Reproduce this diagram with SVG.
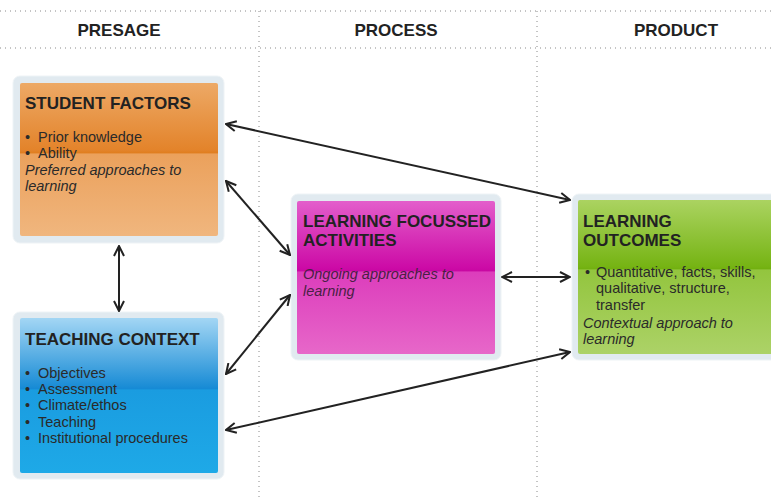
<svg xmlns="http://www.w3.org/2000/svg" width="771" height="498" viewBox="0 0 771 498">
<style>
.hdr{font-family:"Liberation Sans",Arial,sans-serif;font-weight:bold;font-size:17px;fill:#222;text-anchor:middle}
.ttl{font-family:"Liberation Sans",Arial,sans-serif;font-weight:bold;font-size:17px;fill:#222}
.txt{font-family:"Liberation Sans",Arial,sans-serif;font-size:14.5px;fill:#2a2a2a}
.it{font-family:"Liberation Sans",Arial,sans-serif;font-size:14.5px;font-style:italic;fill:#2a2a2a}
.dot{stroke:#8a8a8a;stroke-width:1;stroke-dasharray:1 4;fill:none}
.frame{fill:#e1eaf0;stroke:#eef3f6;stroke-width:1}
.conn{stroke:#222;stroke-width:2;fill:none;marker-start:url(#ah);marker-end:url(#ah)}
</style>
<defs>
<marker id="ah" viewBox="0 0 12 12" refX="11" refY="6" markerWidth="12" markerHeight="12" markerUnits="userSpaceOnUse" orient="auto-start-reverse">
<path d="M1,1 L11,6 L1,11" fill="none" stroke="#222" stroke-width="2"/>
</marker>
<linearGradient id="gO" x1="0" y1="0" x2="0" y2="1">
<stop offset="0" stop-color="#eda966"/>
<stop offset="0.44" stop-color="#e3832a"/>
<stop offset="0.455" stop-color="#e07e20"/>
<stop offset="0.465" stop-color="#eba15c"/>
<stop offset="1" stop-color="#f0b67e"/>
</linearGradient>
<linearGradient id="gB" x1="0" y1="0" x2="0" y2="1">
<stop offset="0" stop-color="#a3d6f4"/>
<stop offset="0.44" stop-color="#1b8dd6"/>
<stop offset="0.455" stop-color="#168ad5"/>
<stop offset="0.465" stop-color="#1a9ce0"/>
<stop offset="1" stop-color="#1ea9e7"/>
</linearGradient>
<linearGradient id="gM" x1="0" y1="0" x2="0" y2="1">
<stop offset="0" stop-color="#e35ecb"/>
<stop offset="0.44" stop-color="#cc0aa6"/>
<stop offset="0.455" stop-color="#c808a2"/>
<stop offset="0.465" stop-color="#dc3dbc"/>
<stop offset="1" stop-color="#e767c9"/>
</linearGradient>
<linearGradient id="gG" x1="0" y1="0" x2="0" y2="1">
<stop offset="0" stop-color="#abd361"/>
<stop offset="0.43" stop-color="#76b414"/>
<stop offset="0.445" stop-color="#72b010"/>
<stop offset="0.455" stop-color="#93c53e"/>
<stop offset="1" stop-color="#acd267"/>
</linearGradient>
</defs>
<rect width="771" height="498" fill="#ffffff"/>
<g id="grid">
<line class="dot" x1="0" y1="11" x2="771" y2="11"/>
<line class="dot" x1="0" y1="48" x2="771" y2="48"/>
<line class="dot" x1="259" y1="11" x2="259" y2="498"/>
<line class="dot" x1="537" y1="11" x2="537" y2="498"/>
</g>
<g id="headers">
<text class="hdr" x="119" y="36">PRESAGE</text>
<text class="hdr" x="396" y="36">PROCESS</text>
<text class="hdr" x="676" y="36">PRODUCT</text>
</g>
<g id="student-factors">
<rect class="frame" x="13" y="76" width="211" height="167" rx="7"/>
<rect x="20" y="83" width="198" height="153" rx="2" fill="url(#gO)"/>
<text class="ttl" x="25" y="109">STUDENT FACTORS</text>
<text class="txt" x="25" y="142">•</text><text class="txt" x="38" y="142">Prior knowledge</text>
<text class="txt" x="25" y="158">•</text><text class="txt" x="38" y="158">Ability</text>
<text class="it" x="25" y="175">Preferred approaches to</text>
<text class="it" x="25" y="191">learning</text>
</g>
<g id="teaching-context">
<rect class="frame" x="13" y="312" width="211" height="167" rx="7"/>
<rect x="20" y="318" width="198" height="155" rx="2" fill="url(#gB)"/>
<text class="ttl" x="25" y="345">TEACHING CONTEXT</text>
<text class="txt" x="25" y="378">•</text><text class="txt" x="38" y="378">Objectives</text>
<text class="txt" x="25" y="394">•</text><text class="txt" x="38" y="394">Assessment</text>
<text class="txt" x="25" y="410">•</text><text class="txt" x="38" y="410">Climate/ethos</text>
<text class="txt" x="25" y="427">•</text><text class="txt" x="38" y="427">Teaching</text>
<text class="txt" x="25" y="443">•</text><text class="txt" x="38" y="443">Institutional procedures</text>
</g>
<g id="learning-activities">
<rect class="frame" x="291" y="194" width="210" height="166" rx="7"/>
<rect x="297" y="201" width="198" height="153" rx="2" fill="url(#gM)"/>
<text class="ttl" x="303" y="227">LEARNING FOCUSSED</text>
<text class="ttl" x="303" y="246">ACTIVITIES</text>
<text class="it" x="303" y="279" style="fill:#4a2044">Ongoing approaches to</text>
<text class="it" x="303" y="296" style="fill:#4a2044">learning</text>
</g>
<g id="learning-outcomes">
<rect class="frame" x="572" y="194" width="210" height="166" rx="7"/>
<rect x="578" y="200" width="200" height="154" rx="2" fill="url(#gG)"/>
<text class="ttl" x="583" y="227">LEARNING</text>
<text class="ttl" x="583" y="246">OUTCOMES</text>
<text class="txt" x="585" y="277">•</text><text class="txt" x="596" y="277">Quantitative, facts, skills,</text>
<text class="txt" x="596" y="293">qualitative, structure,</text>
<text class="txt" x="596" y="310">transfer</text>
<text class="it" x="583" y="328">Contextual approach to</text>
<text class="it" x="583" y="344">learning</text>
</g>
<g id="connectors">
<line class="conn" x1="226" y1="124" x2="570" y2="200"/>
<line class="conn" x1="226" y1="181" x2="290" y2="255"/>
<line class="conn" x1="119" y1="246" x2="119" y2="311"/>
<line class="conn" x1="226" y1="374" x2="290" y2="295"/>
<line class="conn" x1="226" y1="430" x2="570" y2="352"/>
<line class="conn" x1="502" y1="277" x2="570" y2="277"/>
</g>
</svg>
